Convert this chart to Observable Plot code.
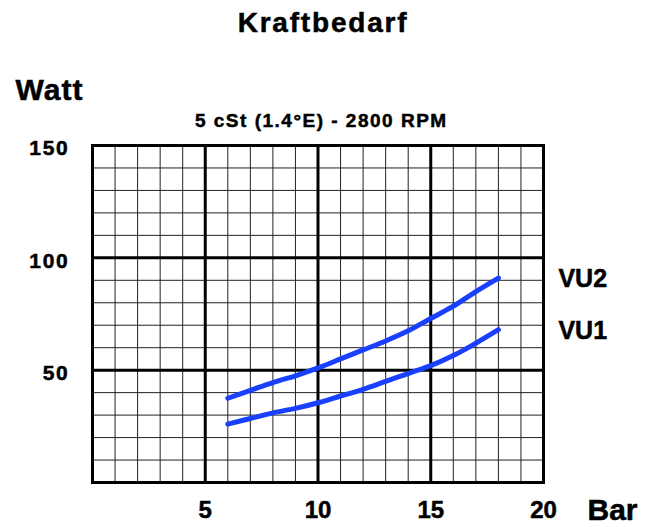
<!DOCTYPE html>
<html><head><meta charset="utf-8">
<script src="https://cdn.jsdelivr.net/npm/d3@7"></script>
<script src="https://cdn.jsdelivr.net/npm/@observablehq/plot@0.6"></script>
<style>
body{margin:0;background:#fff}
svg{font-family:"Liberation Sans",Arial,sans-serif}
svg text{font-weight:bold !important;fill:#000;stroke:#000;stroke-width:0.5px}
g[aria-label="y-axis tick label"] text{letter-spacing:1.7px}
</style>
</head><body><div id="chart"></div>
<script>
const pressure = [6,7,8,9,10,11,12,13,14,15,16,17,18];
const vu2 = [37.5,41,44.5,47.5,51,55,59,63,67.5,73,78.5,85,91];
const vu1 = [26,28.5,31,33,35.5,38.5,41.5,45,48.5,52,56.5,62,68];
const seriesNames = ["VU2","VU1"];
const xTickLabels = [5,10,15,20];
const yTickLabels = [50,100,150];
const minorX = d3.range(0,21,1);
const minorY = d3.range(0,151,10);
const majorX = [0,5,10,15,20];
const majorY = [0,50,100,150];
const titleText = "Kraftbedarf";
const subtitleText = "5 cSt (1.4°E) - 2800 RPM";
const yUnit = "Watt";
const xUnit = "Bar";

const data = [];
[vu2, vu1].forEach((arr,i)=>arr.forEach((v,j)=>data.push({series:seriesNames[i], x:pressure[j], y:v})));
const ends = data.filter(d=>d.x===pressure[pressure.length-1]);

const bold = {fontWeight:"bold", fill:"#000", lineAnchor:"middle"};
const chart = Plot.plot({
  width:659, height:527,
  marginLeft:92, marginRight:116, marginTop:145, marginBottom:45,
  x:{domain:[0,20]}, y:{domain:[0,150]},
  style:{fontFamily:"'Liberation Sans', Arial, sans-serif"},
  marks:[
    Plot.gridX(minorX,{stroke:"#222",strokeOpacity:1,strokeWidth:1}),
    Plot.gridY(minorY,{stroke:"#222",strokeOpacity:1,strokeWidth:1}),
    Plot.gridX(majorX,{stroke:"#000",strokeOpacity:1,strokeWidth:3}),
    Plot.gridY(majorY,{stroke:"#000",strokeOpacity:1,strokeWidth:3}),
    Plot.frame({stroke:"#000",strokeWidth:3}),
    Plot.axisY({ticks:yTickLabels,tickSize:0,tickPadding:23,dy:3,fontSize:21,fontWeight:"bold",label:null}),
    Plot.axisX({ticks:xTickLabels,tickSize:0,tickPadding:18,fontSize:24,fontWeight:"bold",label:null}),
    Plot.line(data,{x:"x",y:"y",z:"series",stroke:"#1a40ff",strokeWidth:5,curve:"catmull-rom"}),
    Plot.text(ends,{x:"x",y:"y",text:"series",textAnchor:"start",dx:60,dy:1,fontSize:25,...bold}),
    Plot.text([titleText],{frameAnchor:"top",dx:5,dy:-122,fontSize:28,...bold}),
    Plot.text([subtitleText],{frameAnchor:"top",dx:3.3,dy:-25,fontSize:19,...bold}),
    Plot.text([yUnit],{frameAnchor:"top-left",textAnchor:"start",dx:-77,dy:-55,fontSize:30,...bold}),
    Plot.text([xUnit],{frameAnchor:"bottom-right",textAnchor:"start",dx:44,dy:27.5,fontSize:30,...bold})
  ]
});
const spacing = new Map([[titleText,"1.8px"],[subtitleText,"1.5px"],[yUnit,"1px"]]);
d3.select(chart).selectAll("text").each(function(){
  const s = spacing.get(this.textContent);
  if (s) this.style.letterSpacing = s;
});
document.getElementById("chart").appendChild(chart);
</script></body></html>
